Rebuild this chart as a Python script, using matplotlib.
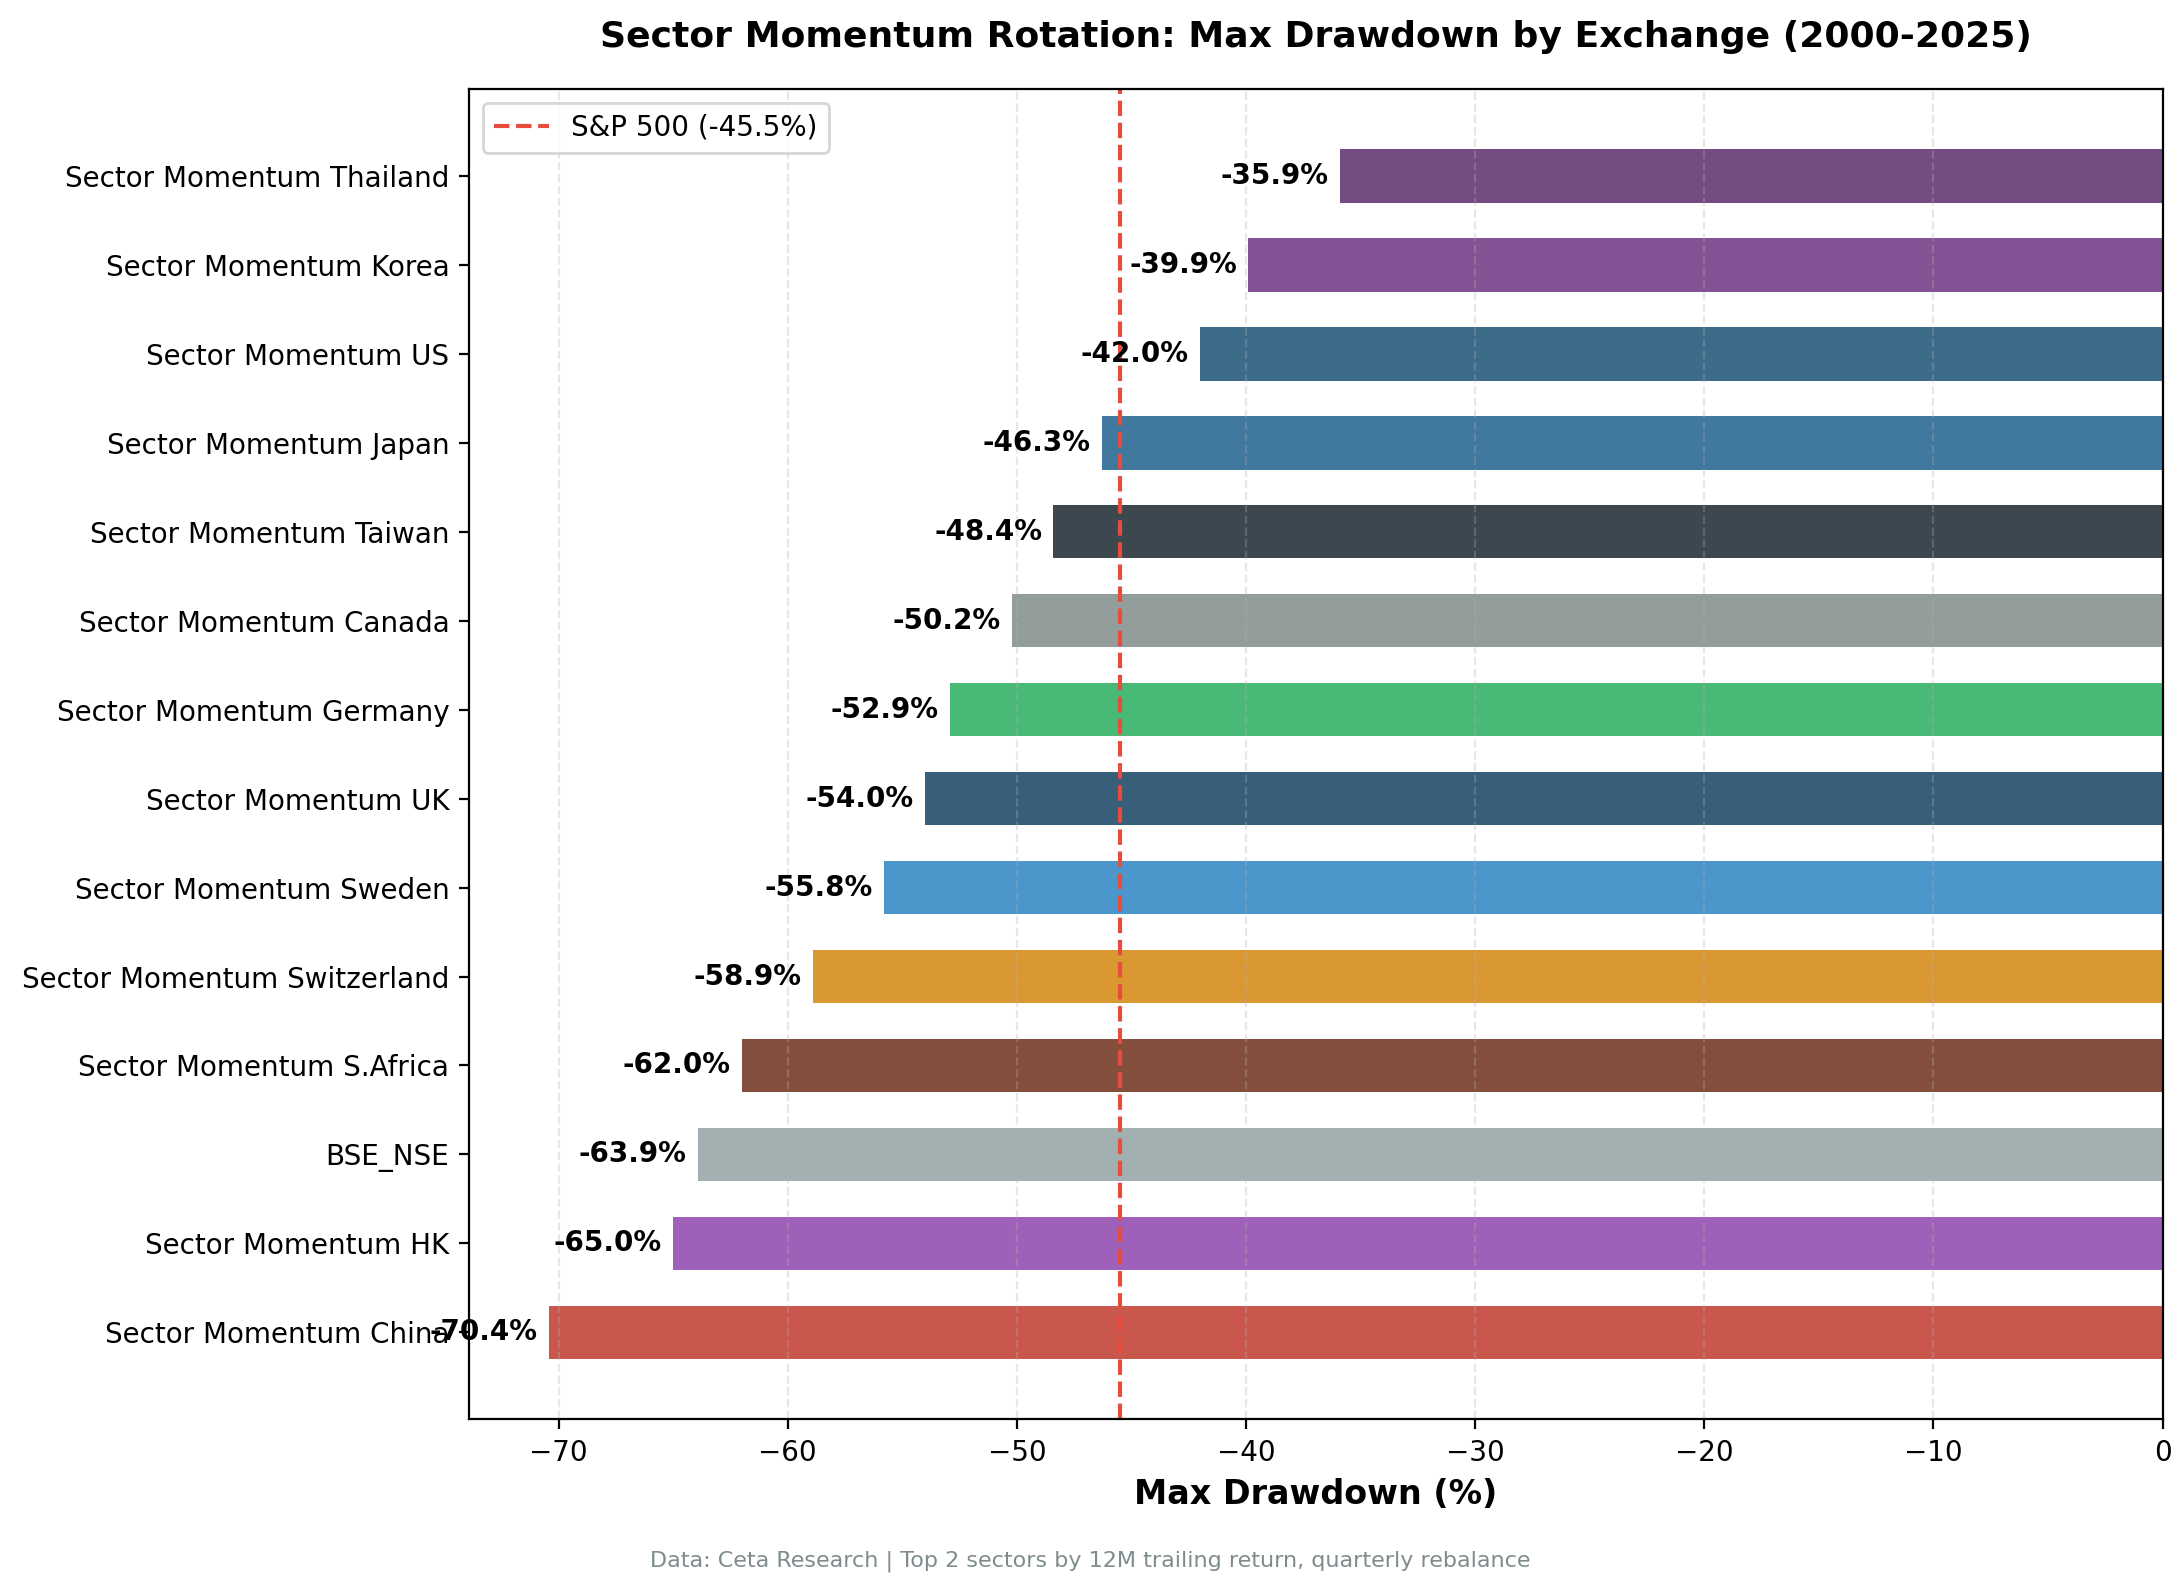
import numpy as np
import matplotlib.pyplot as plt

# exchanges, bottom to top
names = ['Sector Momentum China', 'Sector Momentum HK', 'BSE_NSE', 'Sector Momentum S.Africa',
         'Sector Momentum Switzerland', 'Sector Momentum Sweden', 'Sector Momentum UK',
         'Sector Momentum Germany', 'Sector Momentum Canada', 'Sector Momentum Taiwan',
         'Sector Momentum Japan', 'Sector Momentum US', 'Sector Momentum Korea',
         'Sector Momentum Thailand']
drawdown = [-70.4, -65.0, -63.9, -62.0, -58.9, -55.8, -54.0, -52.9, -50.2, -48.4,
            -46.3, -42.0, -39.9, -35.9]
colors = ['#c9574b', '#9e60b8', '#a3b0b1', '#834f3c', '#da9832', '#4b96ca', '#375f79',
          '#48b976', '#939e9c', '#3c4750', '#41789e', '#3d6b8a', '#835294', '#734c82']
spx_dd = -45.5

fig, ax = plt.subplots(figsize=(10.9, 7.93), dpi=200)
fig.subplots_adjust(left=0.215, right=0.992, top=0.944, bottom=0.105)

y = np.arange(len(names))
ax.barh(y, drawdown, height=0.6, color=colors)
ax.set_yticks(y)
ax.set_yticklabels(names, fontsize=10)

for yi, v in zip(y, drawdown):
    ax.text(v - 0.5, yi, f'{v:.1f}%', ha='right', va='center', fontsize=10, fontweight='bold')

ax.axvline(spx_dd, color='#e74c3c', linestyle='--', linewidth=1.5, label=f'S&P 500 ({spx_dd}%)')
ax.legend(loc='upper left', fontsize=10)

ax.set_xlim(min(drawdown) * 1.05, 0)
ax.set_xlabel('Max Drawdown (%)', fontsize=12, fontweight='bold')
ax.set_title('Sector Momentum Rotation: Max Drawdown by Exchange (2000-2025)',
             fontsize=13, fontweight='bold', pad=15)
ax.tick_params(axis='x', labelsize=10)
ax.grid(axis='x', linestyle='--', alpha=0.3)

fig.text(0.5, 0.012, 'Data: Ceta Research | Top 2 sectors by 12M trailing return, quarterly rebalance',
         ha='center', fontsize=8, color='#7f8c8d')

plt.savefig('out.png', dpi=200)
